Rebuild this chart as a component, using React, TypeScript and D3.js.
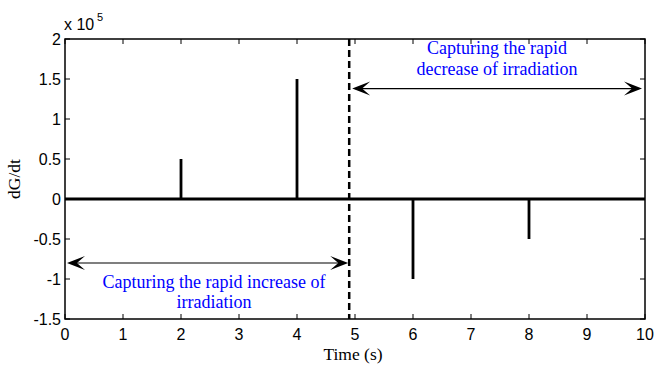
import React from 'react';
import * as d3 from 'd3';

// spikes in dG/dt (W/m^2/s) at the moments irradiation steps
const spikeTimes = [2, 4, 6, 8];
const spikeValues = [0.5e5, 1.5e5, -1.0e5, -0.5e5];
const xTicks = [0, 1, 2, 3, 4, 5, 6, 7, 8, 9, 10];
const yTicks = [-1.5, -1, -0.5, 0, 0.5, 1, 1.5, 2];
const splitTime = 4.9;
const increaseArrowY = -0.8e5;
const decreaseArrowY = 1.38e5;

const W = 658;
const H = 366;
const margin = { left: 65, right: 13, top: 39, bottom: 47 };

const App = () => {
  const x = d3.scaleLinear().domain([0, 10]).range([margin.left, W - margin.right]);
  const y = d3.scaleLinear().domain([-1.5e5, 2e5]).range([H - margin.bottom, margin.top]);

  // build the trace: flat at zero with vertical spikes
  const pts: [number, number][] = [[0, 0]];
  spikeTimes.forEach((t, i) => {
    pts.push([t, 0], [t, spikeValues[i]], [t, 0]);
  });
  pts.push([10, 0]);
  const line = d3.line<[number, number]>().x(d => x(d[0])).y(d => y(d[1]));

  const x0 = x(0), x1 = x(10), y0 = y(-1.5e5), y1 = y(2e5);
  const tl = 5;
  const serif = '"Liberation Serif", "Times New Roman", serif';
  const sans = '"Liberation Sans", Arial, sans-serif';

  const arrowHead = (px: number, py: number, dir: number) => {
    const l = 18, w = 7;
    return `M${px},${py} L${px - dir * l},${py - w} L${px - dir * l * 0.55},${py} L${px - dir * l},${py + w} Z`;
  };

  const ya = y(increaseArrowY);
  const yb = y(decreaseArrowY);
  const xs = x(splitTime);

  return (
    <svg width={W} height={H} style={{ position: 'absolute', left: 0, top: 0 }}>
      <rect width={W} height={H} fill="#fff" />
      {/* ticks */}
      {xTicks.map(t => (
        <g key={'x' + t}>
          <line x1={x(t)} x2={x(t)} y1={y0} y2={y0 - tl} stroke="#000" strokeWidth={1} />
          <line x1={x(t)} x2={x(t)} y1={y1} y2={y1 + tl} stroke="#000" strokeWidth={1} />
          <text x={x(t)} y={y0 + 21} textAnchor="middle" fontFamily={sans} fontSize={16}>{t}</text>
        </g>
      ))}
      {yTicks.map(t => (
        <g key={'y' + t}>
          <line x1={x0} x2={x0 + tl} y1={y(t * 1e5)} y2={y(t * 1e5)} stroke="#000" strokeWidth={1} />
          <line x1={x1} x2={x1 - tl} y1={y(t * 1e5)} y2={y(t * 1e5)} stroke="#000" strokeWidth={1} />
          <text x={x0 - 4} y={y(t * 1e5) + 5.5} textAnchor="end" fontFamily={sans} fontSize={16}>{t}</text>
        </g>
      ))}
      <text x={x0 - 1} y={y1 - 9} fontFamily={sans} fontSize={16}>x 10</text>
      <text x={x0 + 32} y={y1 - 18} fontFamily={sans} fontSize={11}>5</text>

      {/* trace */}
      <path d={line(pts) || ''} fill="none" stroke="#000" strokeWidth={2.8} />

      {/* split marker */}
      <line x1={xs} x2={xs} y1={y1} y2={y0} stroke="#000" strokeWidth={2.5} strokeDasharray="7,4" />

      {/* arrows */}
      <line x1={x0 + 6} x2={xs - 6} y1={ya} y2={ya} stroke="#000" strokeWidth={1.2} />
      <path d={arrowHead(x0 + 2, ya, -1)} fill="#000" />
      <path d={arrowHead(xs - 1, ya, 1)} fill="#000" />
      <line x1={xs + 6} x2={x1 - 6} y1={yb} y2={yb} stroke="#000" strokeWidth={1.2} />
      <path d={arrowHead(xs + 3, yb, -1)} fill="#000" />
      <path d={arrowHead(x1 - 3, yb, 1)} fill="#000" />

      <text x={497} y={54} textAnchor="middle" fontFamily={serif} fontSize={18} fill="#0000ff">Capturing the rapid</text>
      <text x={497} y={75} textAnchor="middle" fontFamily={serif} fontSize={18} fill="#0000ff">decrease of irradiation</text>
      <text x={214} y={288} textAnchor="middle" fontFamily={serif} fontSize={18} fill="#0000ff">Capturing the rapid increase of</text>
      <text x={214} y={308} textAnchor="middle" fontFamily={serif} fontSize={18} fill="#0000ff">irradiation</text>

      {/* frame */}
      <rect x={x0} y={y1} width={x1 - x0} height={y0 - y1} fill="none" stroke="#000" strokeWidth={1.5} />

      <text x={353} y={360} textAnchor="middle" fontFamily={serif} fontSize={17.5}>Time (s)</text>
      <text transform={`translate(20,${(y0 + y1) / 2}) rotate(-90)`} textAnchor="middle" fontFamily={serif} fontSize={17.5}>dG/dt</text>
    </svg>
  );
};

export default App;
